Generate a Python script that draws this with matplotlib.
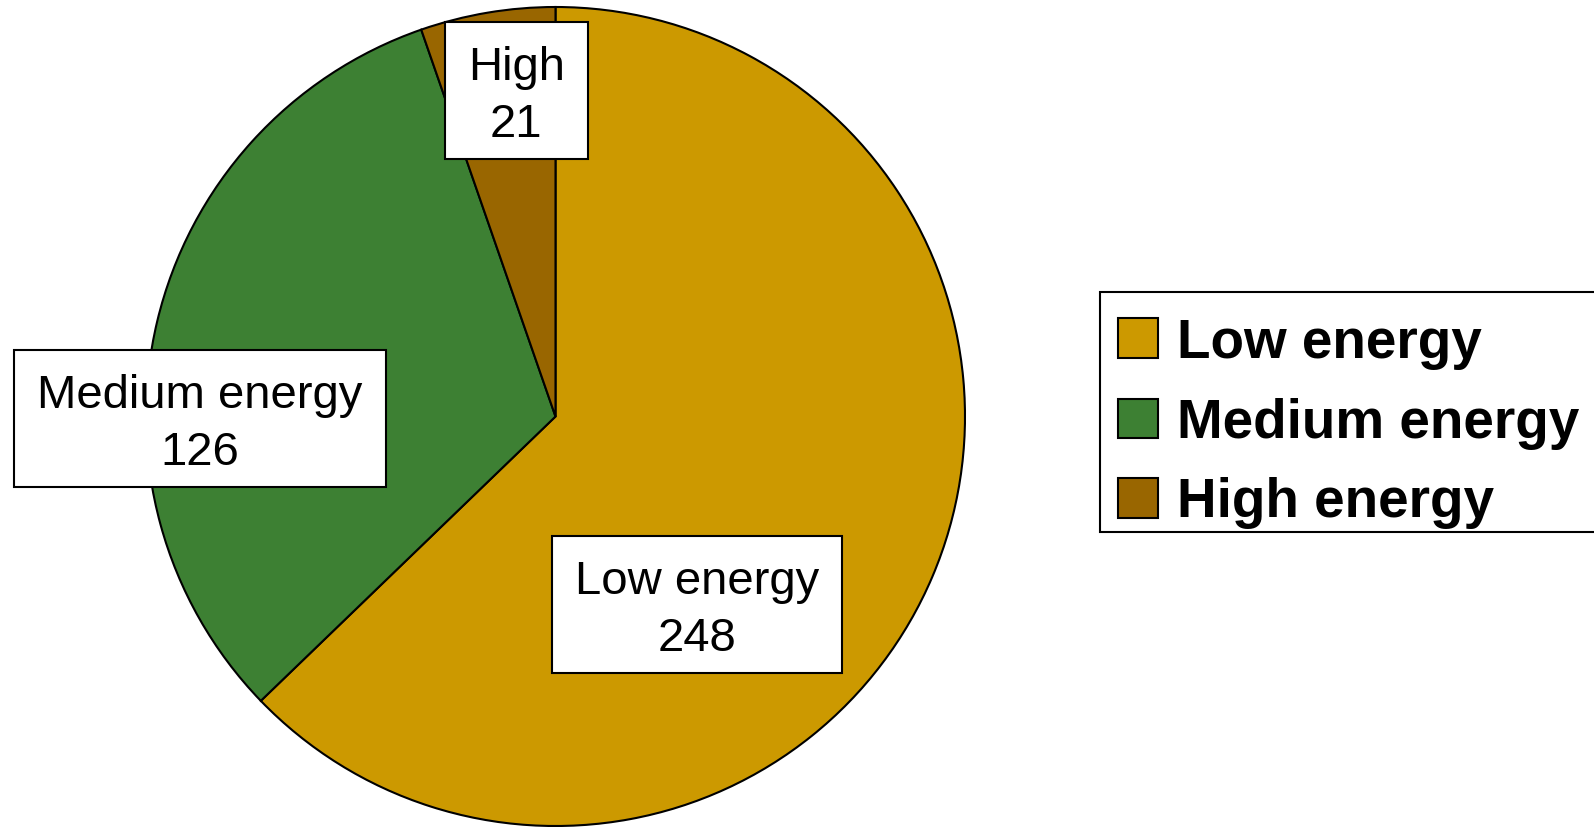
import matplotlib
matplotlib.use("Agg")
import matplotlib.pyplot as plt
import matplotlib.transforms as mtransforms
from matplotlib.patches import Rectangle

# Data
categories = ["Low energy", "Medium energy", "High energy"]
short_labels = ["Low energy", "Medium energy", "High"]
counts = [248, 126, 21]
colors = ["#CC9900", "#3D8033", "#996600"]

# Label anchor positions in unit-circle coordinates
label_pos = [(0.346, -0.458), (-0.868, -0.004), (-0.096, 0.797)]

W, H, DPI = 1594, 827, 100
fig = plt.figure(figsize=(W / DPI, H / DPI), dpi=DPI)

cx, cy, R = 555.5, 416.5, 409.5
ax = fig.add_axes([(cx - R) / W, (H - cy - R) / H, 2 * R / W, 2 * R / H])

wedges, _ = ax.pie(counts, colors=colors, startangle=90, counterclock=False,
                   radius=1.0,
                   wedgeprops=dict(edgecolor="black", linewidth=1.5))
ax.set_xlim(-1, 1)
ax.set_ylim(-1, 1)
ax.set_aspect("equal")
ax.axis("off")

# Value labels: text nudged slightly below the centre of its white box
text_tr = mtransforms.offset_copy(ax.transData, fig=fig, x=0, y=-6, units="dots")
texts = []
for lab, val, (x, y) in zip(short_labels, counts, label_pos):
    t = ax.text(x, y, f"{lab}\n{val}", ha="center", va="center",
                fontsize=34, family="Liberation Sans", linespacing=1.38,
                zorder=5, transform=text_tr)
    texts.append(t)

fig.canvas.draw()
renderer = fig.canvas.get_renderer()
inv = ax.transData.inverted()
pad_x, box_h = 23, 137
for t, (x, y) in zip(texts, label_pos):
    bb = t.get_window_extent(renderer)
    _, yc = ax.transData.transform((x, y))
    x0, y0 = inv.transform((bb.x0 - pad_x, yc - box_h / 2))
    x1, y1 = inv.transform((bb.x1 + pad_x, yc + box_h / 2))
    ax.add_patch(Rectangle((x0, y0), x1 - x0, y1 - y0, facecolor="white",
                           edgecolor="black", linewidth=1.5, zorder=4,
                           clip_on=False))

# Legend box (runs past the right edge of the figure)
def px(x, y):
    return x / W, 1 - y / H

leg_left, leg_top, leg_bottom = 1100, 292, 532
fx0, fy1 = px(leg_left, leg_top)
_, fy0 = px(leg_left, leg_bottom)
fig.add_artist(Rectangle((fx0, fy0), 1.2 - fx0, fy1 - fy0,
                         transform=fig.transFigure, facecolor="white",
                         edgecolor="black", linewidth=1.5, zorder=1))

row_centers = [338, 418.5, 497.5]
sw = 40
for cat, col, rc in zip(categories, colors, row_centers):
    sx, sy = px(1118, rc + sw / 2)
    fig.add_artist(Rectangle((sx, sy), sw / W, sw / H,
                             transform=fig.transFigure, facecolor=col,
                             edgecolor="black", linewidth=1.5, zorder=2))
    tx, ty = px(1177, rc + 19.5)
    fig.text(tx, ty, cat, ha="left", va="baseline", fontsize=39.5,
             family="Liberation Sans", weight="bold", zorder=3)

fig.savefig("out.png", dpi=DPI)
